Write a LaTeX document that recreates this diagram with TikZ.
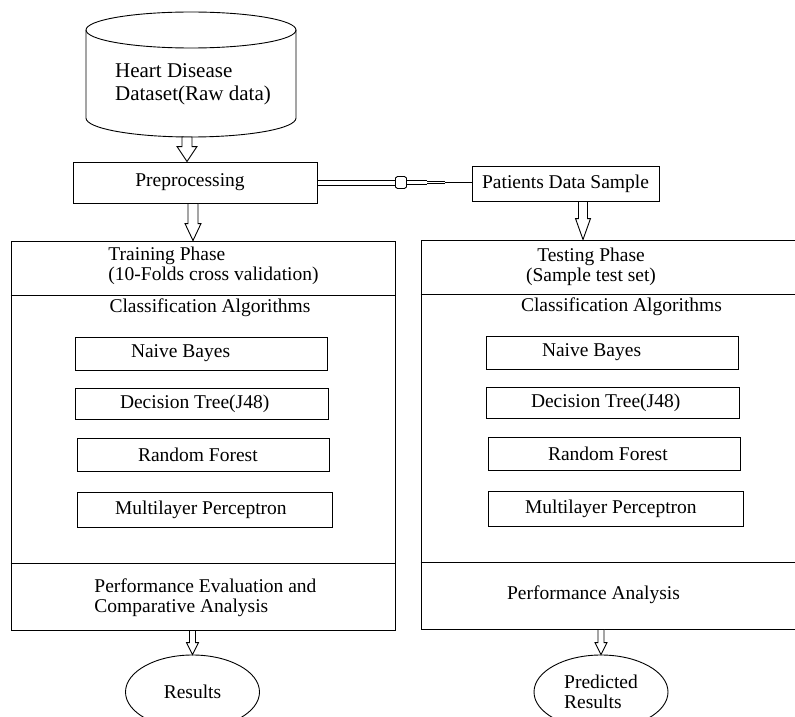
\documentclass[tikz,border=0pt]{standalone}
\usepackage{fontspec}
\setmainfont{Liberation Serif}
\usetikzlibrary{shapes.geometric,calc}

% flecha hueca vertical: inicio, destino, medio ancho, media punta, largo punta
\newcommand{\hollowarrow}[5]{%
  \draw[fill=white] let \p1=(#1), \p2=(#2) in
    (\x1-#3pt,\y1) -- (\x1+#3pt,\y1) -- (\x1+#3pt,\y2+#5pt) -- (\x1+#4pt,\y2+#5pt)
    -- (\x1,\y2) -- (\x1-#4pt,\y2+#5pt) -- (\x1-#3pt,\y2+#5pt) -- cycle;}

\begin{document}
\begin{tikzpicture}[x=1pt,y=-1pt,line width=0.9pt,
    font=\fontsize{19.5}{20}\selectfont,
    box/.style={draw,inner sep=0pt},
    txt/.style={inner sep=0pt,align=left},
    alg/.style 2 args={draw,inner xsep=#1,inner ysep=0pt,text width=#2,align=flush left}]
  \useasboundingbox (0,0) rectangle (795,717);
  \clip (0,0) rectangle (795,717);

  % Datos
  \draw (86,30) -- (86,118) arc[start angle=180,end angle=0,x radius=105,y radius=19] -- (296,30);
  \draw (191,30) ellipse[x radius=105,y radius=18];
  \node[txt,font=\fontsize{21}{23}\selectfont] (db) at (193,84) {Heart Disease\\Dataset(Raw data)};
  \coordinate (dbbot) at (187,137);

  \node[box,minimum width=244,minimum height=41] (pre) at (195,182.5) {Preprocessing\hspace*{10pt}};
  \node[box,minimum width=187,minimum height=35] (pat) at (565.5,183.5) {Patients Data Sample};

  % Entrenamiento
  \node[box,minimum width=384,minimum height=389] (train) at (203,435.5) {};
  \draw (train.west |- 0,295) -- (train.east |- 0,295);
  \draw (train.west |- 0,563) -- (train.east |- 0,563);
  \node[txt,anchor=west] (trainhead) at (108,265.5) {Training Phase\\(10-Folds cross validation)};
  \node[txt] (classL) at (210,308) {Classification Algorithms};
  \node[alg={56pt}{140pt},minimum height=33] (nbL) at (201,353.5) {Naive Bayes};
  \node[alg={45pt}{163pt},minimum height=31] (dtL) at (201.5,403.5) {Decision Tree(J48)};
  \node[alg={61pt}{130pt},minimum height=33] (rfL) at (203,454.5) {Random Forest};
  \node[alg={38pt}{179pt},minimum height=35] (mlpL) at (204.5,509.5) {Multilayer Perceptron};
  \node[txt,anchor=west] (perfL) at (94,598) {Performance Evaluation and\\Comparative Analysis};

  % Prueba
  \node[box,minimum width=389,minimum height=389] (test) at (615.5,434.5) {};
  \draw (test.west |- 0,294) -- (test.east |- 0,294);
  \draw (test.west |- 0,562) -- (test.east |- 0,562);
  \node[txt,align=center] (testhead) at (591,267) {Testing Phase\\(Sample test set)};
  \node[txt] (classR) at (621.5,307) {Classification Algorithms};
  \node[alg={56pt}{140pt},minimum height=33] (nbR) at (612,352.5) {Naive Bayes};
  \node[alg={45pt}{163pt},minimum height=31] (dtR) at (612.5,402.5) {Decision Tree(J48)};
  \node[alg={60pt}{132pt},minimum height=33] (rfR) at (614,453.5) {Random Forest};
  \node[alg={37pt}{181pt},minimum height=35] (mlpR) at (615.5,508.5) {Multilayer Perceptron};
  \node[txt] (perfR) at (593.5,595) {Performance Analysis};

  % Resultados
  \node[draw,ellipse,minimum width=134,minimum height=74,inner sep=0pt] (res) at (192.5,692) {Results};
  \node[draw,ellipse,minimum width=134,minimum height=74,inner sep=0pt,align=left] (pred) at (601,692) {Predicted\\Results};

  % Flechas
  \hollowarrow{dbbot}{pre.north}{5}{10}{15}
  \hollowarrow{[xshift=-2pt]pre.south}{train.north}{5}{8}{17}
  \hollowarrow{[xshift=17.5pt]pat.south}{test.north}{4.5}{7.5}{21}
  \hollowarrow{res.north |- train.south}{res.north}{3}{6}{12}
  \hollowarrow{pred.north |- test.south}{pred.north}{3}{6}{12}

  \coordinate (b1) at ([xshift=78pt]pre.east);
  \draw ([yshift=2.5pt]pre.east) -- ([yshift=2.5pt]b1);
  \draw ([yshift=-2.5pt]pre.east) -- ([yshift=-2.5pt]b1);
  \draw[fill=white] ([yshift=4.5pt]b1) -- ++(2,-1.5) -- ++(7,0) -- ++(2,1.5) -- ++(0,9) -- ++(-2,1.5) -- ++(-7,0) -- ++(-2,-1.5) -- cycle;
  \coordinate (b2) at ([xshift=11pt]b1);
  \draw ([yshift=2pt]b2) -- ++(21,0) coordinate (b3);
  \draw ([yshift=-2pt]b2) -- ++(21,0);
  \draw[double,double distance=1pt] (b3 |- b2) -- ++(18,0) coordinate (b4);
  \draw[line width=1.5pt] (b4) -- (b4 -| pat.west);
\end{tikzpicture}
\end{document}
